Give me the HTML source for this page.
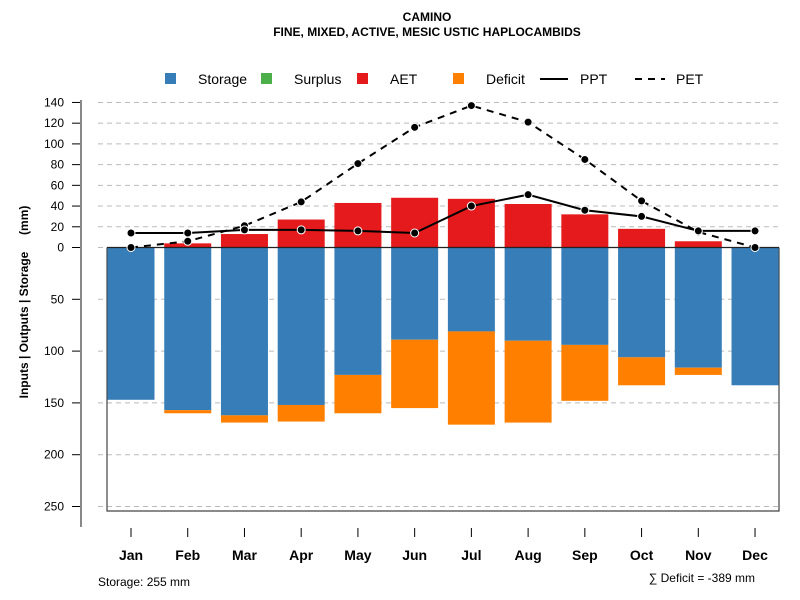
<!DOCTYPE html>
<html><head><meta charset="utf-8"><style>
body{margin:0;background:#fff;}
svg{display:block;font-family:"Liberation Sans",sans-serif;}
</style></head><body>
<svg id="c" width="800" height="600"></svg>
<script>
const months=["Jan","Feb","Mar","Apr","May","Jun","Jul","Aug","Sep","Oct","Nov","Dec"];
const storage=[147,157,162,152,123,89,81,90,94,106,116,133];
const deficit=[0,3,7,16,37,66,90,79,54,27,7,0];
const surplus=[0,0,0,0,0,0,0,0,0,0,0,0];
const aet=[0,4,13,27,43,48,47,42,32,18,6,0];
const ppt=[14,14,17,17,16,14,40,51,36,30,16,16];
const pet=[0,6,21,44,81,116,137,121,85,45,15,0];
const upTicks=[0,20,40,60,80,100,120,140];
const downTicks=[50,100,150,200,250];
const NS="http://www.w3.org/2000/svg";
const svg=document.getElementById('c');
const K=1.036,Y0=247.5;
const yUp=v=>Y0-v*K, yDown=v=>Y0+v*K;
const xC=i=>131+i*56.73;
const BW=47;
function el(t,a,txt){const e=document.createElementNS(NS,t);for(const k in a)e.setAttribute(k,a[k]);if(txt!==undefined)e.textContent=txt;svg.appendChild(e);return e;}
let t=el('text',{x:427,y:21,'text-anchor':'middle','font-size':12,'font-weight':'bold'},'CAMINO');

t=el('text',{x:427,y:36,'text-anchor':'middle','font-size':12,'font-weight':'bold'},'FINE, MIXED, ACTIVE, MESIC USTIC HAPLOCAMBIDS');

const leg=[["Storage","#377eb8",165,198],["Surplus","#4daf4a",261,294],["AET","#e41a1c",357,390],["Deficit","#ff7f00",453,486]];
leg.forEach(l=>{const r=el('rect',{x:l[2],y:73,width:11,height:11,fill:l[1]});
const tx=el('text',{x:l[3],y:84,'font-size':14},l[0]);});
let ln=el('line',{x1:540,y1:79,x2:568,y2:79,stroke:'#000','stroke-width':2});
t=el('text',{x:580,y:84,'font-size':14},'PPT');
ln=el('line',{x1:635,y1:79,x2:665,y2:79,stroke:'#000','stroke-width':2,'stroke-dasharray':'7,6'});
t=el('text',{x:676,y:84,'font-size':14},'PET');
upTicks.forEach(v=>{const y=yUp(v);
const g=el('line',{x1:98,y1:y,x2:779,y2:y,stroke:'#bbb','stroke-dasharray':'5,4'});
el('line',{x1:72,y1:y,x2:81,y2:y,stroke:'#000'});
const l=el('text',{x:64,y:y+4,'text-anchor':'end','font-size':12},String(v));});
downTicks.forEach(v=>{const y=yDown(v);
const g=el('line',{x1:98,y1:y,x2:779,y2:y,stroke:'#bbb','stroke-dasharray':'5,4'});
el('line',{x1:72,y1:y,x2:81,y2:y,stroke:'#000'});
const l=el('text',{x:64,y:y+4,'text-anchor':'end','font-size':12},String(v));});
let ax=el('line',{x1:81,y1:100,x2:81,y2:527,stroke:'#888','stroke-width':2});
t=el('text',{x:0,y:0,'font-size':12,'font-weight':'bold','text-anchor':'middle',transform:'translate(28,302) rotate(-90)',style:'white-space:pre'},'Inputs | Outputs | Storage     (mm)');

el('polyline',{points:`107,${Y0} 107,511 779,511 779,${Y0}`,fill:'none',stroke:'#444','stroke-width':1.2});
months.forEach((m,i)=>{const x=xC(i)-BW/2;
let r=el('rect',{x:x,y:Y0,width:BW,height:storage[i]*K,fill:'#377eb8'});
r=el('rect',{x:x,y:yDown(storage[i]),width:BW,height:deficit[i]*K,fill:'#ff7f00'});
r=el('rect',{x:x,y:yUp(aet[i]),width:BW,height:aet[i]*K,fill:'#e41a1c'});
r=el('rect',{x:x,y:yUp(aet[i]+surplus[i]),width:BW,height:surplus[i]*K,fill:'#4daf4a'});
el('line',{x1:xC(i),y1:528,x2:xC(i),y2:537,stroke:'#000'});
const l=el('text',{x:xC(i),y:560,'text-anchor':'middle','font-size':14,'font-weight':'bold'},m);});
el('line',{x1:107,y1:Y0,x2:779,y2:Y0,stroke:'#222','stroke-width':1.2});
let p=el('polyline',{points:pet.map((v,i)=>xC(i)+','+yUp(v)).join(' '),fill:'none',stroke:'#000','stroke-width':2,'stroke-dasharray':'7,6'});
p=el('polyline',{points:ppt.map((v,i)=>xC(i)+','+yUp(v)).join(' '),fill:'none',stroke:'#000','stroke-width':2});
pet.forEach((v,i)=>{const c=el('circle',{cx:xC(i),cy:yUp(v),r:4,fill:'#000',stroke:'#fff','stroke-width':1});});
ppt.forEach((v,i)=>{const c=el('circle',{cx:xC(i),cy:yUp(v),r:4,fill:'#000',stroke:'#fff','stroke-width':1});});
t=el('text',{x:98,y:586,'font-size':12},'Storage: 255 mm');
t=el('text',{x:755,y:582,'font-size':12,'text-anchor':'end'},'∑ Deficit = -389 mm');
</script>
</body></html>
